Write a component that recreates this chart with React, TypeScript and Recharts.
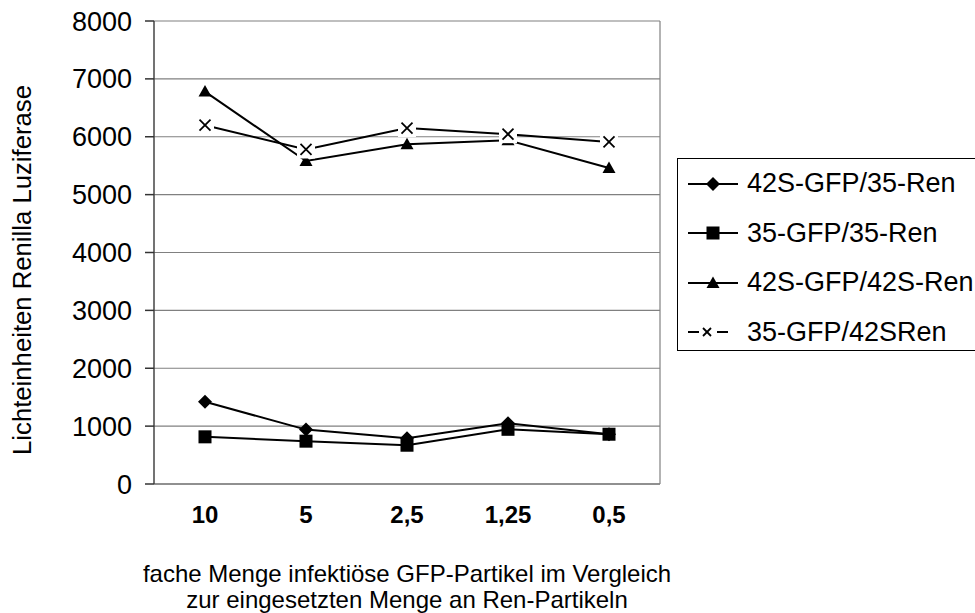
import React from "react"
import { CartesianGrid, Label, Line, LineChart, XAxis, YAxis } from "recharts"

// values
const categories = ["10", "5", "2,5", "1,25", "0,5"]
const gfp42S_ren35 = [1420, 940, 790, 1050, 860]
const gfp35_ren35 = [815, 740, 670, 945, 860]
const gfp42S_ren42S = [6780, 5580, 5870, 5940, 5460]
const gfp35_ren42S = [6200, 5780, 6150, 6045, 5910]
const yTicks = [0, 1000, 2000, 3000, 4000, 5000, 6000, 7000, 8000]

const seriesNames = ["42S-GFP/35-Ren", "35-GFP/35-Ren", "42S-GFP/42S-Ren", "35-GFP/42SRen"]
const seriesShapes = ["diamond", "square", "triangle", "cross"]

const data = categories.map((cat, i) => ({
  cat,
  s1: gfp42S_ren35[i],
  s2: gfp35_ren35[i],
  s3: gfp42S_ren42S[i],
  s4: gfp35_ren42S[i],
}))

const FONT = "'Liberation Sans', Arial, sans-serif"

function Marker({ shape, cx, cy }: { shape: string; cx: number; cy: number }) {
  if (shape === "diamond") {
    return <polygon points={`${cx},${cy - 7} ${cx + 7},${cy} ${cx},${cy + 7} ${cx - 7},${cy}`} fill="#000" />
  }
  if (shape === "square") {
    return <rect x={cx - 6.5} y={cy - 6.5} width={13} height={13} fill="#000" />
  }
  if (shape === "triangle") {
    return <polygon points={`${cx},${cy - 6.5} ${cx + 6.5},${cy + 5} ${cx - 6.5},${cy + 5}`} fill="#000" />
  }
  return (
    <g>
      <rect x={cx - 9} y={cy - 9} width={18} height={18} fill="#fff" />
      <line x1={cx - 5.5} y1={cy - 5.5} x2={cx + 5.5} y2={cy + 5.5} stroke="#000" strokeWidth={1.8} />
      <line x1={cx - 5.5} y1={cy + 5.5} x2={cx + 5.5} y2={cy - 5.5} stroke="#000" strokeWidth={1.8} />
    </g>
  )
}

const dotFor = (shape: string) => (props: any) => (
  <Marker key={`${shape}-${props.index}`} shape={shape} cx={props.cx} cy={props.cy} />
)

function LegendSymbol({ shape }: { shape: string }) {
  if (shape === "cross") {
    // the cross entry shows as short dashes either side of a small x
    return (
      <g>
        <line x1={10} y1={15} x2={21} y2={15} stroke="#000" strokeWidth={2} />
        <line x1={39} y1={15} x2={50} y2={15} stroke="#000" strokeWidth={2} />
        <line x1={25} y1={11} x2={33} y2={19} stroke="#000" strokeWidth={1.8} />
        <line x1={25} y1={19} x2={33} y2={11} stroke="#000" strokeWidth={1.8} />
      </g>
    )
  }
  return (
    <g>
      <line x1={10} y1={15} x2={60} y2={15} stroke="#000" strokeWidth={2} />
      <Marker shape={shape} cx={35} cy={15} />
    </g>
  )
}

function LegendBox() {
  return (
    <div
      style={{
        position: "absolute",
        left: 677,
        top: 158,
        border: "1px solid #000",
        width: 310,
        height: 193,
        background: "#fff",
        boxSizing: "border-box",
        fontFamily: FONT,
      }}
    >
      {seriesNames.map((name, i) => (
        <div key={name} style={{ display: "flex", alignItems: "center", height: 49.5 }}>
          <svg width={66} height={30} style={{ flex: "none" }}>
            <LegendSymbol shape={seriesShapes[i]} />
          </svg>
          <span style={{ fontSize: 27, color: "#000", whiteSpace: "nowrap", marginLeft: 3 }}>{name}</span>
        </div>
      ))}
    </div>
  )
}

export default function App() {
  return (
    <div style={{ position: "absolute", left: 0, top: 0, width: 975, height: 613, overflow: "hidden", background: "#fff" }}>
      <LineChart width={975} height={613} data={data} margin={{ top: 21, right: 315, left: 0, bottom: 0 }}>
        <CartesianGrid
          stroke="#808080"
          strokeWidth={1.2}
          vertical={true}
          verticalCoordinatesGenerator={({ offset }: any) => [offset.left + offset.width]}
        />
        <XAxis
          dataKey="cat"
          height={129}
          interval={0}
          padding={{ left: 51, right: 51 }}
          tickLine={false}
          tickSize={0}
          tickMargin={22}
          axisLine={{ stroke: "#808080", strokeWidth: 1.5 }}
          tick={{ fontSize: 24, fontWeight: "bold", fill: "#000", fontFamily: FONT }}
        >
          <Label
            content={({ viewBox }: any) => {
              const cx = viewBox.x + viewBox.width / 2
              return (
                <text textAnchor="middle" fontSize={24} fill="#000" fontFamily={FONT}>
                  <tspan x={cx} y={582}>fache Menge infektiöse GFP-Partikel im Vergleich</tspan>
                  <tspan x={cx} y={608}>zur eingesetzten Menge an Ren-Partikeln</tspan>
                </text>
              )
            }}
          />
        </XAxis>
        <YAxis
          width={154}
          domain={[0, 8000]}
          ticks={yTicks}
          interval={0}
          tickSize={9}
          tickMargin={13}
          tickLine={{ stroke: "#333", strokeWidth: 1.5 }}
          axisLine={{ stroke: "#444", strokeWidth: 1.5 }}
          tick={{ fontSize: 27, fill: "#000", fontFamily: FONT }}
        >
          <Label
            content={() => (
              <text
                x={22}
                y={270}
                transform="rotate(-90 22 270)"
                textAnchor="middle"
                dominantBaseline="central"
                fontSize={25.7}
                fill="#000"
                fontFamily={FONT}
              >
                Lichteinheiten Renilla Luziferase
              </text>
            )}
          />
        </YAxis>
        <Line dataKey="s1" name={seriesNames[0]} stroke="#000" strokeWidth={2} dot={dotFor("diamond")} activeDot={false} isAnimationActive={false} />
        <Line dataKey="s2" name={seriesNames[1]} stroke="#000" strokeWidth={2} dot={dotFor("square")} activeDot={false} isAnimationActive={false} />
        <Line dataKey="s3" name={seriesNames[2]} stroke="#000" strokeWidth={2} dot={dotFor("triangle")} activeDot={false} isAnimationActive={false} />
        <Line dataKey="s4" name={seriesNames[3]} stroke="#000" strokeWidth={2} dot={dotFor("cross")} activeDot={false} isAnimationActive={false} />
      </LineChart>
      <LegendBox />
    </div>
  )
}
